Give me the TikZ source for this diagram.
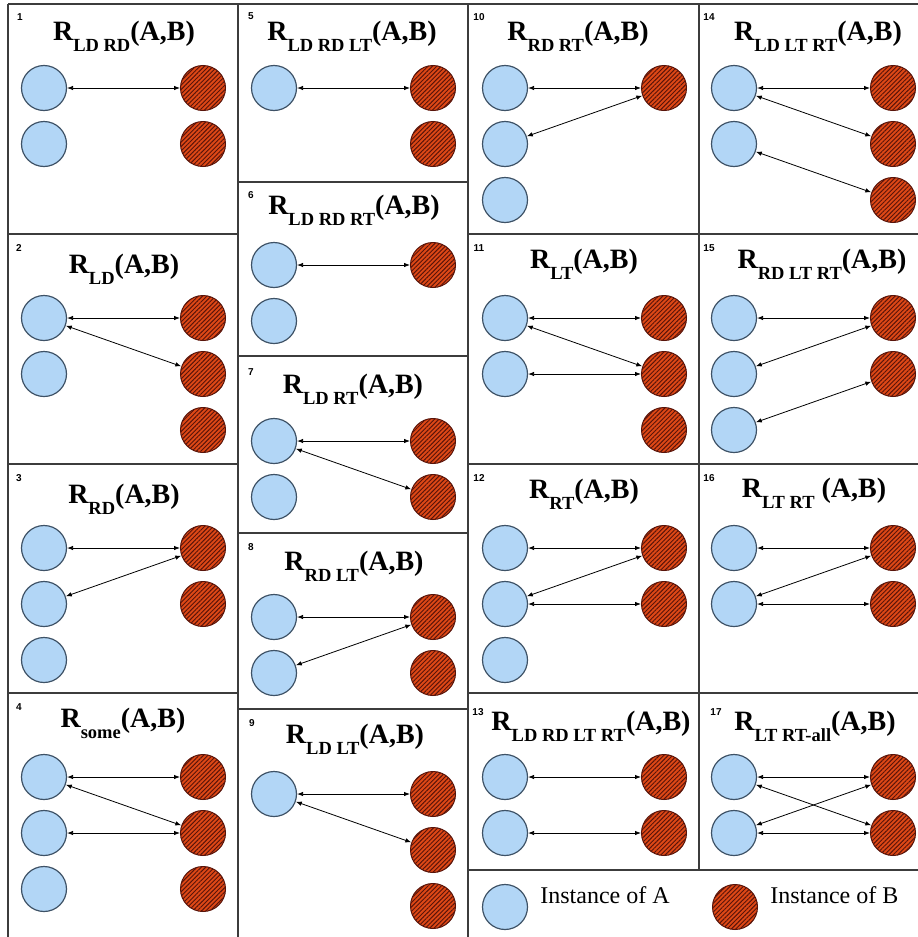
\documentclass[tikz,border=0pt]{standalone}
\usepackage{fontspec}
\setmainfont{Liberation Serif}
\newfontfamily\numfont{Liberation Sans}
\usetikzlibrary{arrows.meta,patterns.meta,positioning}

\definecolor{instA}{RGB}{178,214,246}
\definecolor{instAline}{RGB}{62,82,102}
\definecolor{instB}{RGB}{222,72,22}
\definecolor{instBhatch}{RGB}{88,20,10}
\definecolor{frameline}{RGB}{60,60,60}

\newcommand{\relsub}[1]{\raisebox{-11pt}{\fontsize{18.5}{18.5}\selectfont #1}}

\begin{document}
\begin{tikzpicture}[x=1pt,y=-1pt,<->,>={Latex[length=6pt,width=4.5pt]},
  line width=0.8pt,node distance=56pt,
  inst a/.style={circle,draw=instAline,fill=instA,line width=1.2pt,
    minimum size=45pt,inner sep=0pt},
  inst b/.style={circle,draw=instBhatch,line width=1pt,minimum size=45pt,
    inner sep=0pt,preaction={fill=instB},
    pattern={Lines[angle=45,distance=3.1pt,line width=0.95pt]},
    pattern color=instBhatch},
  title/.style={font=\fontsize{28}{28}\selectfont\bfseries,anchor=base,
    inner sep=0pt},
  num/.style={font=\numfont\bfseries\fontsize{10}{10}\selectfont,inner sep=0pt},
  legend text/.style={font=\fontsize{24}{24}\selectfont,anchor=base west,
    inner sep=0pt},
  frame/.style={-,draw=frameline,line width=1.8pt}]

  \useasboundingbox (0,0) rectangle (918,937);

  % grid
  \draw[frame] (8,4) -- (918,4);
  \draw[frame] (8,4) -- (8,937);
  \draw[frame] (238,4) -- (238,937);
  \draw[frame] (468,4) -- (468,937);
  \draw[frame] (699,4) -- (699,870);
  \draw[frame] (8,234) -- (238,234);
  \draw[frame] (8,464) -- (238,464);
  \draw[frame] (8,693) -- (238,693);
  \draw[frame] (238,182) -- (468,182);
  \draw[frame] (238,356) -- (468,356);
  \draw[frame] (238,533) -- (468,533);
  \draw[frame] (238,709) -- (468,709);
  \draw[frame] (468,234) -- (918,234);
  \draw[frame] (468,464) -- (918,464);
  \draw[frame] (468,693) -- (918,693);
  \draw[frame] (468,870) -- (918,870);

  % numbers
  \node[num] (N1) at (20,17) {1};
  \node[num] (N2) at (19,248) {2};
  \node[num] (N3) at (19,478) {3};
  \node[num] (N4) at (19,707) {4};
  \node[num] (N5) at (251,16) {5};
  \node[num] (N6) at (251,195) {6};
  \node[num] (N7) at (251,372) {7};
  \node[num] (N8) at (251,547) {8};
  \node[num] (N9) at (252,723) {9};
  \node[num] (N10) at (479,17) {10};
  \node[num] (N11) at (479,248) {11};
  \node[num] (N12) at (479,478) {12};
  \node[num] (N13) at (478,712) {13};
  \node[num] (N14) at (709,17) {14};
  \node[num] (N15) at (709,248) {15};
  \node[num] (N16) at (709,478) {16};
  \node[num] (N17) at (716,712) {17};

  % titles
  \node[title] (T1) at (124,40) {R\relsub{LD RD}(A,B)};
  \node[title] (T2) at (124,273) {R\relsub{LD}(A,B)};
  \node[title] (T3) at (124,503) {R\relsub{RD}(A,B)};
  \node[title] (T4) at (123,727) {R\relsub{some}(A,B)};
  \node[title] (T5) at (352,40) {R\relsub{LD RD LT}(A,B)};
  \node[title] (T6) at (354,214) {R\relsub{LD RD RT}(A,B)};
  \node[title] (T7) at (353,393) {R\relsub{LD RT}(A,B)};
  \node[title] (T8) at (354,570) {R\relsub{RD LT}(A,B)};
  \node[title] (T9) at (355,743) {R\relsub{LD LT}(A,B)};
  \node[title] (T10) at (578,40) {R\relsub{RD RT}(A,B)};
  \node[title] (T11) at (584,268) {R\relsub{LT}(A,B)};
  \node[title] (T12) at (584,498) {R\relsub{RT}(A,B)};
  \node[title] (T13) at (591,730) {R\relsub{LD RD LT RT}(A,B)};
  \node[title] (T14) at (818,40) {R\relsub{LD LT RT}(A,B)};
  \node[title] (T15) at (822,268) {R\relsub{RD LT RT}(A,B)};
  \node[title] (T16) at (814,497) {R\relsub{LT RT} (A,B)};
  \node[title] (T17) at (815,730) {R\relsub{LT RT-all}(A,B)};

  % column 1
  \node[inst a] (P1A1) at (44,88) {};
  \node[inst a] (P1A2) [below of=P1A1] {};
  \node[inst b] (P1B1) [node distance=159pt, right of=P1A1] {};
  \node[inst b] (P1B2) [below of=P1B1] {};

  \node[inst a] (P2A1) at (44,318) {};
  \node[inst a] (P2A2) [below of=P2A1] {};
  \node[inst b] (P2B1) [node distance=159pt, right of=P2A1] {};
  \node[inst b] (P2B2) [below of=P2B1] {};
  \node[inst b] (P2B3) [below of=P2B2] {};

  \node[inst a] (P3A1) at (44,548) {};
  \node[inst a] (P3A2) [below of=P3A1] {};
  \node[inst a] (P3A3) [below of=P3A2] {};
  \node[inst b] (P3B1) [node distance=159pt, right of=P3A1] {};
  \node[inst b] (P3B2) [below of=P3B1] {};

  \node[inst a] (P4A1) at (44,777) {};
  \node[inst a] (P4A2) [below of=P4A1] {};
  \node[inst a] (P4A3) [below of=P4A2] {};
  \node[inst b] (P4B1) [node distance=159pt, right of=P4A1] {};
  \node[inst b] (P4B2) [below of=P4B1] {};
  \node[inst b] (P4B3) [below of=P4B2] {};

  % column 2
  \node[inst a] (P5A1) at (274,88) {};
  \node[inst b] (P5B1) [node distance=159pt, right of=P5A1] {};
  \node[inst b] (P5B2) [below of=P5B1] {};

  \node[inst a] (P6A1) at (274,265) {};
  \node[inst a] (P6A2) [below of=P6A1] {};
  \node[inst b] (P6B1) [node distance=159pt, right of=P6A1] {};

  \node[inst a] (P7A1) at (274,441) {};
  \node[inst a] (P7A2) [below of=P7A1] {};
  \node[inst b] (P7B1) [node distance=159pt, right of=P7A1] {};
  \node[inst b] (P7B2) [below of=P7B1] {};

  \node[inst a] (P8A1) at (274,617) {};
  \node[inst a] (P8A2) [below of=P8A1] {};
  \node[inst b] (P8B1) [node distance=159pt, right of=P8A1] {};
  \node[inst b] (P8B2) [below of=P8B1] {};

  \node[inst a] (P9A1) at (274,794) {};
  \node[inst b] (P9B1) [node distance=159pt, right of=P9A1] {};
  \node[inst b] (P9B2) [below of=P9B1] {};
  \node[inst b] (P9B3) [below of=P9B2] {};

  % column 3
  \node[inst a] (P10A1) at (505,88) {};
  \node[inst a] (P10A2) [below of=P10A1] {};
  \node[inst a] (P10A3) [below of=P10A2] {};
  \node[inst b] (P10B1) [node distance=159pt, right of=P10A1] {};

  \node[inst a] (P11A1) at (505,318) {};
  \node[inst a] (P11A2) [below of=P11A1] {};
  \node[inst b] (P11B1) [node distance=159pt, right of=P11A1] {};
  \node[inst b] (P11B2) [below of=P11B1] {};
  \node[inst b] (P11B3) [below of=P11B2] {};

  \node[inst a] (P12A1) at (505,548) {};
  \node[inst a] (P12A2) [below of=P12A1] {};
  \node[inst a] (P12A3) [below of=P12A2] {};
  \node[inst b] (P12B1) [node distance=159pt, right of=P12A1] {};
  \node[inst b] (P12B2) [below of=P12B1] {};

  \node[inst a] (P13A1) at (505,777) {};
  \node[inst a] (P13A2) [below of=P13A1] {};
  \node[inst b] (P13B1) [node distance=159pt, right of=P13A1] {};
  \node[inst b] (P13B2) [below of=P13B1] {};

  % column 4
  \node[inst a] (P14A1) at (734,88) {};
  \node[inst a] (P14A2) [below of=P14A1] {};
  \node[inst b] (P14B1) [node distance=159pt, right of=P14A1] {};
  \node[inst b] (P14B2) [below of=P14B1] {};
  \node[inst b] (P14B3) [below of=P14B2] {};

  \node[inst a] (P15A1) at (734,318) {};
  \node[inst a] (P15A2) [below of=P15A1] {};
  \node[inst a] (P15A3) [below of=P15A2] {};
  \node[inst b] (P15B1) [node distance=159pt, right of=P15A1] {};
  \node[inst b] (P15B2) [below of=P15B1] {};

  \node[inst a] (P16A1) at (734,548) {};
  \node[inst a] (P16A2) [below of=P16A1] {};
  \node[inst b] (P16B1) [node distance=159pt, right of=P16A1] {};
  \node[inst b] (P16B2) [below of=P16B1] {};

  \node[inst a] (P17A1) at (734,777) {};
  \node[inst a] (P17A2) [below of=P17A1] {};
  \node[inst b] (P17B1) [node distance=159pt, right of=P17A1] {};
  \node[inst b] (P17B2) [below of=P17B1] {};

  % legend
  \node[inst a] (LegA) at (505,907) {};
  \node[inst b] (LegB) at (735,907) {};
  \node[legend text] (LegAText) at (540,903) {Instance of A};
  \node[legend text] (LegBText) at (770,903) {Instance of B};

  \path
    (P1A1) edge (P1B1)
    (P2A1) edge (P2B1)
    (P2A1) edge (P2B2)
    (P3A1) edge (P3B1)
    (P3A2) edge (P3B1)
    (P4A1) edge (P4B1)
    (P4A1) edge (P4B2)
    (P4A2) edge (P4B2)
    (P5A1) edge (P5B1)
    (P6A1) edge (P6B1)
    (P7A1) edge (P7B1)
    (P7A1) edge (P7B2)
    (P8A1) edge (P8B1)
    (P8A2) edge (P8B1)
    (P9A1) edge (P9B1)
    (P9A1) edge (P9B2)
    (P10A1) edge (P10B1)
    (P10A2) edge (P10B1)
    (P11A1) edge (P11B1)
    (P11A1) edge (P11B2)
    (P11A2) edge (P11B2)
    (P12A1) edge (P12B1)
    (P12A2) edge (P12B1)
    (P12A2) edge (P12B2)
    (P13A1) edge (P13B1)
    (P13A2) edge (P13B2)
    (P14A1) edge (P14B1)
    (P14A1) edge (P14B2)
    (P14A2) edge (P14B3)
    (P15A1) edge (P15B1)
    (P15A2) edge (P15B1)
    (P15A3) edge (P15B2)
    (P16A1) edge (P16B1)
    (P16A2) edge (P16B1)
    (P16A2) edge (P16B2)
    (P17A1) edge (P17B1)
    (P17A1) edge (P17B2)
    (P17A2) edge (P17B1)
    (P17A2) edge (P17B2)
    ;
\end{tikzpicture}
\end{document}
